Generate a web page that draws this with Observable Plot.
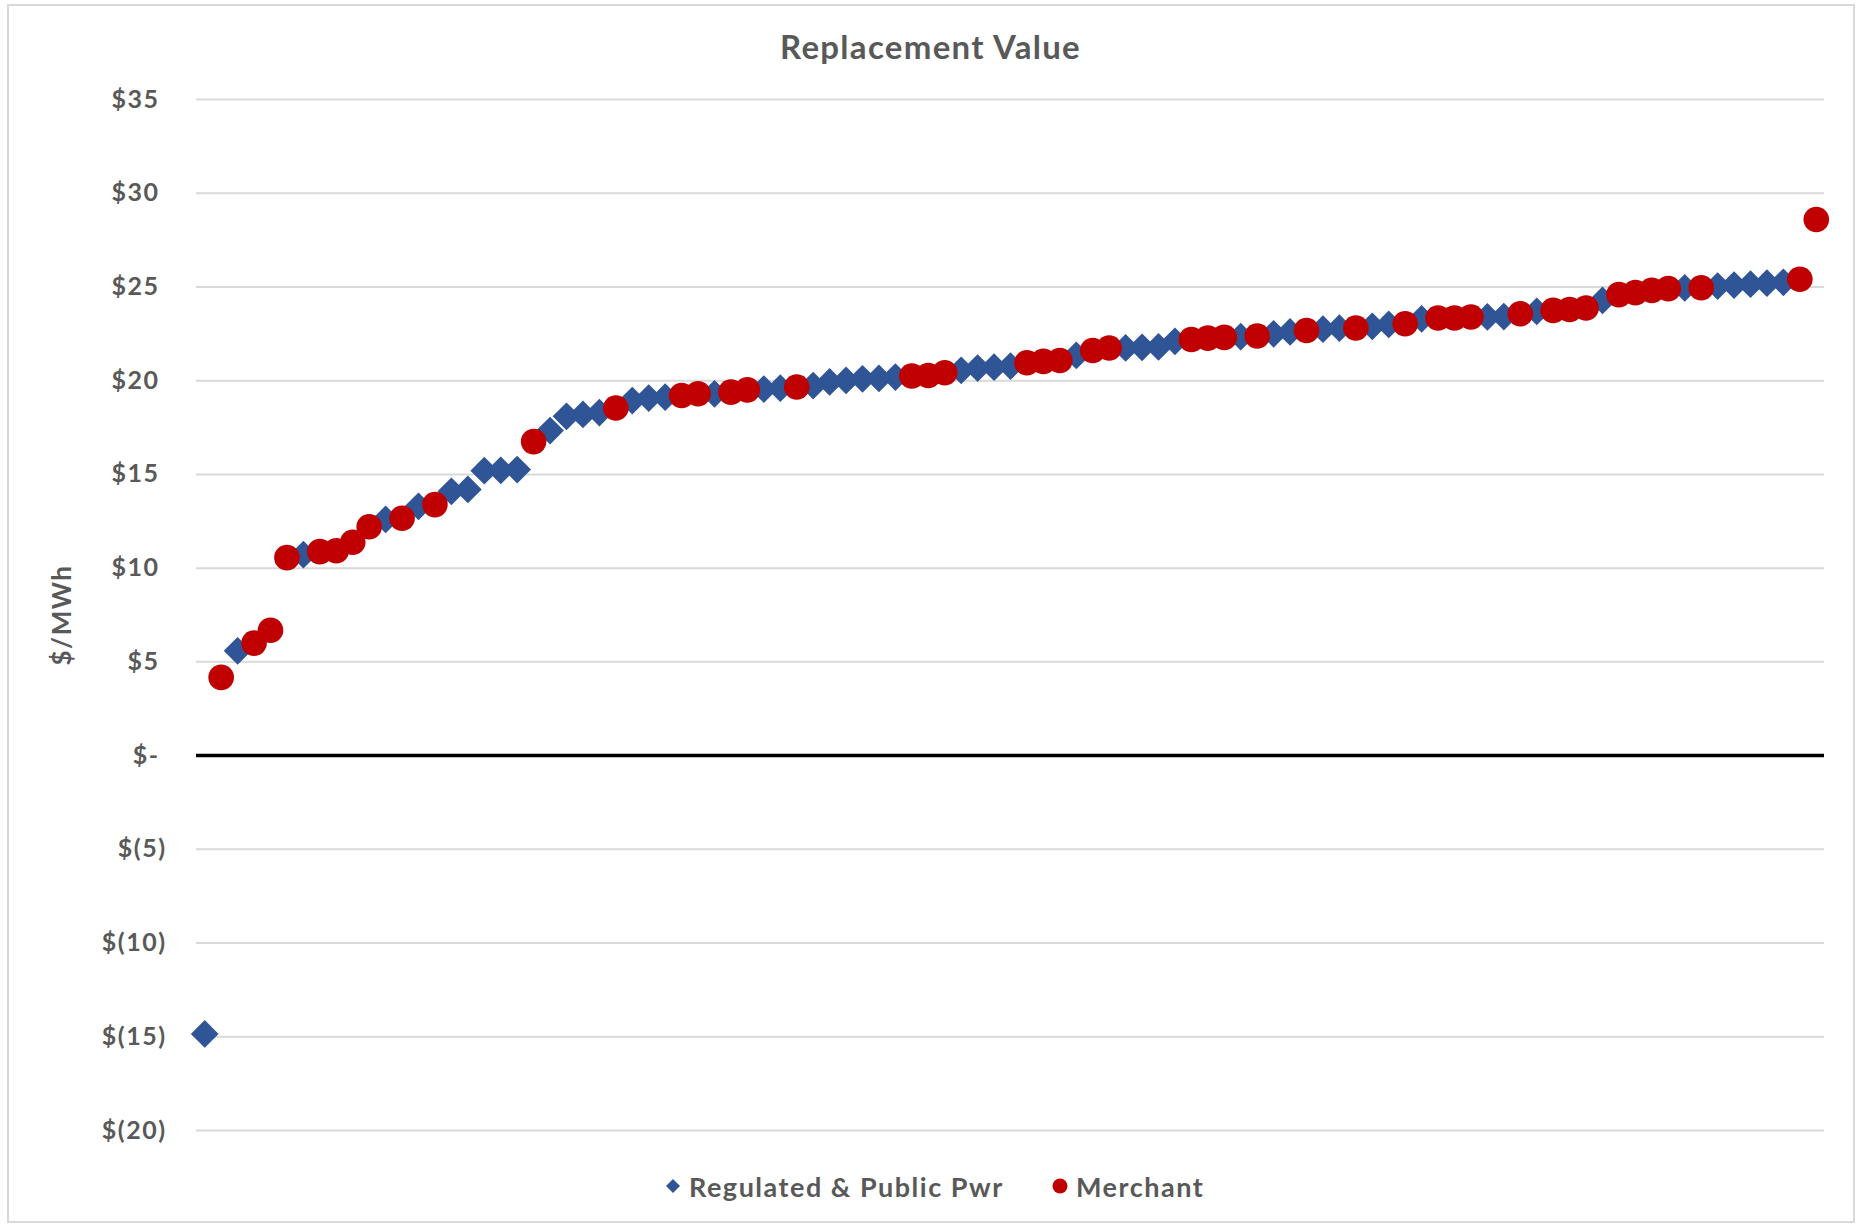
<!DOCTYPE html>
<html>
<head>
<meta charset="utf-8">
<script src="https://cdn.jsdelivr.net/npm/d3@7"></script>
<script src="https://cdn.jsdelivr.net/npm/@observablehq/plot@0.6"></script>
<style>
  html, body { margin: 0; padding: 0; background: #fff; }
  body { width: 1861px; height: 1225px; position: relative; overflow: hidden; font-family: Lato, "Open Sans", sans-serif; }
  #frame { position: absolute; left: 7px; top: 4px; width: 1848px; height: 1219px; border: 2px solid #d9d9d9; box-sizing: border-box; }
  #title { position: absolute; left: 0; top: 30px; width: 1861px; text-align: center; font-weight: bold; font-size: 33px; line-height: 1; color: #595959; letter-spacing: 1.3px; }
  #chart { position: absolute; left: 0; top: 70px; }
  #legend { position: absolute; top: 1171px; left: 0; width: 1861px; height: 30px; font-weight: bold; font-size: 27px; color: #595959; letter-spacing: 1.5px; }
  .item { position: absolute; top: 0; display: flex; align-items: center; height: 30px; white-space: nowrap; }
  .item svg { margin-right: 8px; }
  #chart svg text { letter-spacing: 1.5px; }
</style>
</head>
<body>
<div id="frame"></div>
<div id="title">Replacement Value</div>
<div id="chart"></div>
<div id="legend"></div>
<script>
// ---- Data ----
const seriesNames = ["Regulated & Public Pwr", "Merchant"];
const seriesColors = ["#2F5597", "#C00000"];

const regulatedRank = [1, 3, 7, 12, 14, 16, 17, 18, 19, 20, 22, 23, 24, 25, 27, 28, 29, 32, 35, 36,
  38, 39, 40, 41, 42, 43, 47, 48, 49, 50, 54, 57, 58, 59, 60, 64, 66, 67, 69, 70,
  72, 73, 75, 79, 80, 82, 86, 91, 93, 94, 95, 96, 97];
const regulatedValue = [-14.85, 5.59, 10.72, 12.6, 13.3, 14.1, 14.2, 15.2, 15.22, 15.26, 17.34, 18.1, 18.2, 18.3, 18.94, 19.07, 19.12, 19.3, 19.55, 19.6,
  19.74, 19.93, 20.01, 20.1, 20.12, 20.19, 20.55, 20.67, 20.72, 20.78, 21.35, 21.75, 21.78, 21.8, 22.1, 22.35, 22.5, 22.6, 22.75, 22.8,
  22.9, 23.0, 23.3, 23.4, 23.42, 23.7, 24.28, 24.95, 25.05, 25.1, 25.15, 25.2, 25.25];

const merchantRank = [2, 4, 5, 6, 8, 9, 10, 11, 13, 15, 21, 26, 30, 31, 33, 34, 37, 44, 45, 46,
  51, 52, 53, 55, 56, 61, 62, 63, 65, 68, 71, 74, 76, 77, 78, 81, 83, 84, 85, 87,
  88, 89, 90, 92, 98, 99];
const merchantValue = [4.17, 6.0, 6.69, 10.56, 10.88, 10.93, 11.38, 12.21, 12.66, 13.39, 16.75, 18.54, 19.21, 19.3, 19.39, 19.51, 19.66, 20.25, 20.28, 20.42,
  20.96, 21.03, 21.08, 21.61, 21.74, 22.2, 22.27, 22.31, 22.38, 22.68, 22.81, 23.04, 23.34, 23.34, 23.4, 23.57, 23.75, 23.8, 23.88, 24.59,
  24.7, 24.82, 24.91, 24.96, 25.41, 28.6];

const rankDomain = [0.5, 99.5];
const yTicks = [-20, -15, -10, -5, 0, 5, 10, 15, 20, 25, 30, 35];
const yTickLabels = ["$(20)", "$(15)", "$(10)", "$(5)", "$-", "$5", "$10", "$15", "$20", "$25", "$30", "$35"];
const yTitle = "$/MWh";

// ---- Build tables ----
const regulated = regulatedRank.map((r, i) => ({rank: r, value: regulatedValue[i]}));
const merchant = merchantRank.map((r, i) => ({rank: r, value: merchantValue[i]}));
const fmt = d => yTickLabels[yTicks.indexOf(d)];
const textColor = "#595959";

const chart = Plot.plot({
  width: 1861,
  height: 1100,
  marginTop: 29,
  marginBottom: 40,
  marginLeft: 196,
  marginRight: 37,
  style: {fontFamily: "Lato, 'Open Sans', sans-serif", color: textColor, background: "transparent", overflow: "visible"},
  x: {domain: rankDomain, axis: null},
  y: {domain: [yTicks[0], yTicks[yTicks.length - 1]], axis: null},
  marks: [
    Plot.gridY(yTicks.filter(d => d !== 0), {stroke: "#d9d9d9", strokeOpacity: 1, strokeWidth: 2}),
    Plot.ruleY([0], {stroke: "#000", strokeWidth: 3.5}),
    Plot.axisY(yTicks.filter(d => d >= 0), {tickSize: 0, tickPadding: 37, tickFormat: fmt, fontSize: 25, fontWeight: "bold", fill: textColor, label: null}),
    Plot.axisY(yTicks.filter(d => d < 0), {tickSize: 0, tickPadding: 30, tickFormat: fmt, fontSize: 25, fontWeight: "bold", fill: textColor, label: null}),
    Plot.text([yTitle], {text: d => d, frameAnchor: "left", textAnchor: "middle", dx: -134, rotate: -90, fontSize: 26, fontWeight: "bold", fill: textColor}),
    Plot.dot(regulated, {x: "rank", y: "value", symbol: "diamond2", r: 12.5, fill: seriesColors[0]}),
    Plot.dot(merchant, {x: "rank", y: "value", symbol: "circle", r: 12.8, fill: seriesColors[1]})
  ]
});
document.getElementById("chart").appendChild(chart);

// ---- Legend ----
const legend = document.getElementById("legend");
const legendLeft = [665, 1052];
const markerSvg = [
  `<svg width="16" height="16" viewBox="-8 -8 16 16"><path d="M0,-7L7,0L0,7L-7,0Z" fill="${seriesColors[0]}"/></svg>`,
  `<svg width="16" height="16" viewBox="-8 -8 16 16"><circle r="7.5" fill="${seriesColors[1]}"/></svg>`
];
seriesNames.forEach((name, i) => {
  const item = document.createElement("div");
  item.className = "item";
  item.style.left = legendLeft[i] + "px";
  item.innerHTML = markerSvg[i] + `<span>${name.replace("&", "&amp;")}</span>`;
  legend.appendChild(item);
});
</script>
</body>
</html>
